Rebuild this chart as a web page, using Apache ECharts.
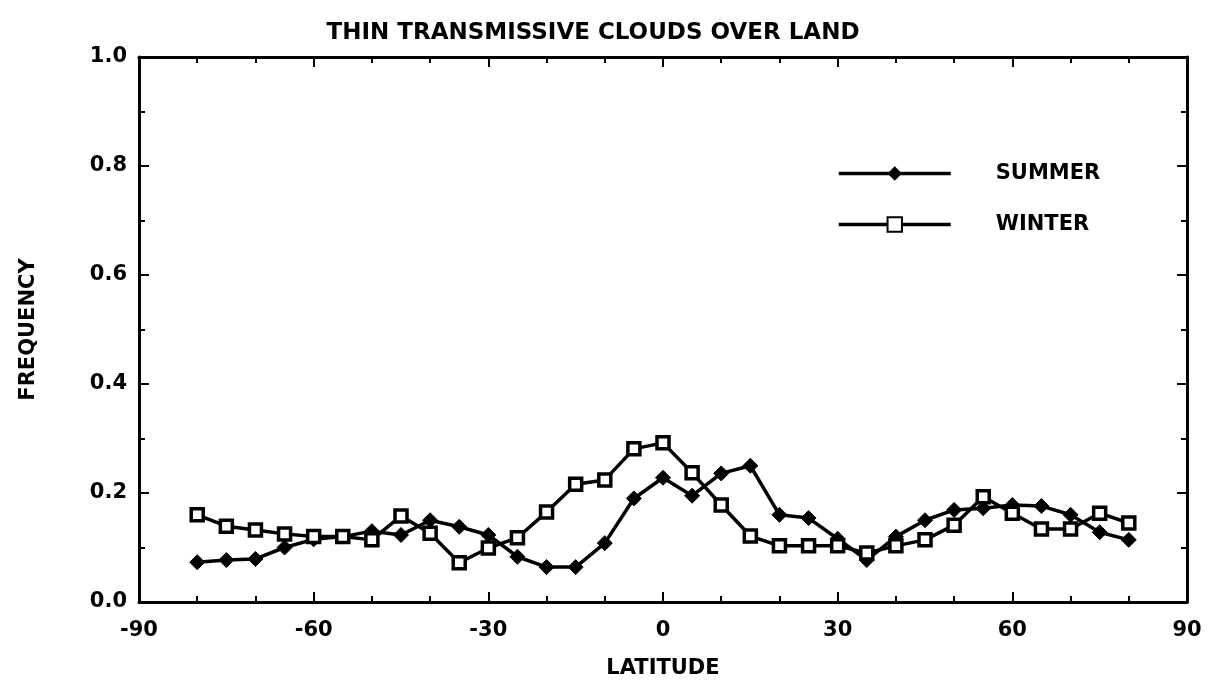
<!DOCTYPE html>
<html lang="en">
<head>
    <meta charset="utf-8">
    <title>Thin transmissive clouds over land</title>
    <script src="https://cdn.jsdelivr.net/npm/echarts@6/dist/echarts.min.js"></script>
    <style>
        html, body { margin: 0; padding: 0; background: #fff; }
        #main { width: 1208px; height: 692px; }
    </style>
</head>
<body>
    <div id="main"></div>
    <script type="text/javascript">
        // latitude bins, every 5 degrees
        var latitude = [-80, -75, -70, -65, -60, -55, -50, -45, -40, -35, -30, -25, -20, -15, -10, -5,
                        0, 5, 10, 15, 20, 25, 30, 35, 40, 45, 50, 55, 60, 65, 70, 75, 80];
        var summer = [0.073, 0.077, 0.079, 0.10, 0.115, 0.12, 0.13, 0.123, 0.15, 0.138, 0.123, 0.083, 0.064, 0.064, 0.108, 0.19,
                      0.228, 0.195, 0.236, 0.25, 0.16, 0.154, 0.116, 0.077, 0.12, 0.15, 0.169, 0.172, 0.178, 0.176, 0.16, 0.128, 0.114];
        var winter = [0.16, 0.139, 0.132, 0.125, 0.12, 0.12, 0.114, 0.158, 0.126, 0.072, 0.099, 0.118, 0.165, 0.216, 0.224, 0.281,
                      0.292, 0.237, 0.178, 0.121, 0.103, 0.103, 0.103, 0.09, 0.103, 0.114, 0.141, 0.193, 0.163, 0.134, 0.134, 0.163, 0.145];

        function pairs(ys) {
            return latitude.map(function (x, i) { return [x, ys[i]]; });
        }

        var font = '"DejaVu Sans", sans-serif';
        var txt = { fontFamily: font, fontWeight: 'bold', fontSize: 21, color: '#000' };
        var axisLine = { show: true, onZero: false, lineStyle: { color: '#000', width: 3 } };
        var tick = { inside: true, length: 10, lineStyle: { color: '#000', width: 2 } };
        var minor = { show: true, length: 6, lineStyle: { color: '#000', width: 2 } };

        var myChart = echarts.init(document.getElementById('main'));
        var option = {
            backgroundColor: '#fff',
            animation: false,
            title: {
                text: 'THIN TRANSMISSIVE CLOUDS OVER LAND',
                left: 588,
                textAlign: 'center',
                top: 17,
                textStyle: Object.assign({}, txt, { fontSize: 23 })
            },
            legend: {
                orient: 'vertical',
                left: 832,
                top: 158,
                itemWidth: 112,
                itemHeight: 18,
                itemGap: 30,
                lineStyle: { width: 3.5 },
                textStyle: Object.assign({}, txt, { padding: [0, 0, 0, 40] }),
                data: ['SUMMER', 'WINTER']
            },
            grid: { left: 139, top: 57, width: 1048, height: 545 },
            xAxis: [{
                type: 'value',
                min: -90, max: 90, interval: 30,
                name: 'LATITUDE',
                nameLocation: 'middle',
                nameGap: 56,
                nameTextStyle: txt,
                axisLine: axisLine,
                axisTick: tick,
                minorTick: Object.assign({}, minor, { splitNumber: 3 }),
                axisLabel: Object.assign({}, txt, { margin: 18 }),
                splitLine: { show: false }
            }, {
                type: 'value',
                position: 'top',
                min: -90, max: 90, interval: 30,
                axisLine: axisLine,
                axisTick: tick,
                minorTick: Object.assign({}, minor, { splitNumber: 3 }),
                axisLabel: { show: false },
                splitLine: { show: false }
            }],
            yAxis: [{
                type: 'value',
                min: 0, max: 1, interval: 0.2,
                name: 'FREQUENCY',
                nameLocation: 'middle',
                nameGap: 100,
                nameTextStyle: txt,
                axisLine: axisLine,
                axisTick: tick,
                minorTick: Object.assign({}, minor, { splitNumber: 2 }),
                axisLabel: Object.assign({}, txt, {
                    margin: 12,
                    formatter: function (v) { return v.toFixed(1); }
                }),
                splitLine: { show: false }
            }, {
                type: 'value',
                position: 'right',
                min: 0, max: 1, interval: 0.2,
                axisLine: axisLine,
                axisTick: tick,
                minorTick: Object.assign({}, minor, { splitNumber: 2 }),
                axisLabel: { show: false },
                splitLine: { show: false }
            }],
            series: [
                {
                    name: 'SUMMER',
                    type: 'line',
                    data: pairs(summer),
                    symbol: 'diamond',
                    symbolSize: 15,
                    itemStyle: { color: '#000', borderColor: '#000' },
                    lineStyle: { color: '#000', width: 3.5 }
                },
                {
                    name: 'WINTER',
                    type: 'line',
                    data: pairs(winter),
                    symbol: 'rect',
                    symbolSize: 12,
                    itemStyle: { color: '#fff', borderColor: '#000', borderWidth: 3.5 },
                    lineStyle: { color: '#000', width: 3.5 }
                }
            ]
        };
        myChart.setOption(option);
    </script>
</body>
</html>
